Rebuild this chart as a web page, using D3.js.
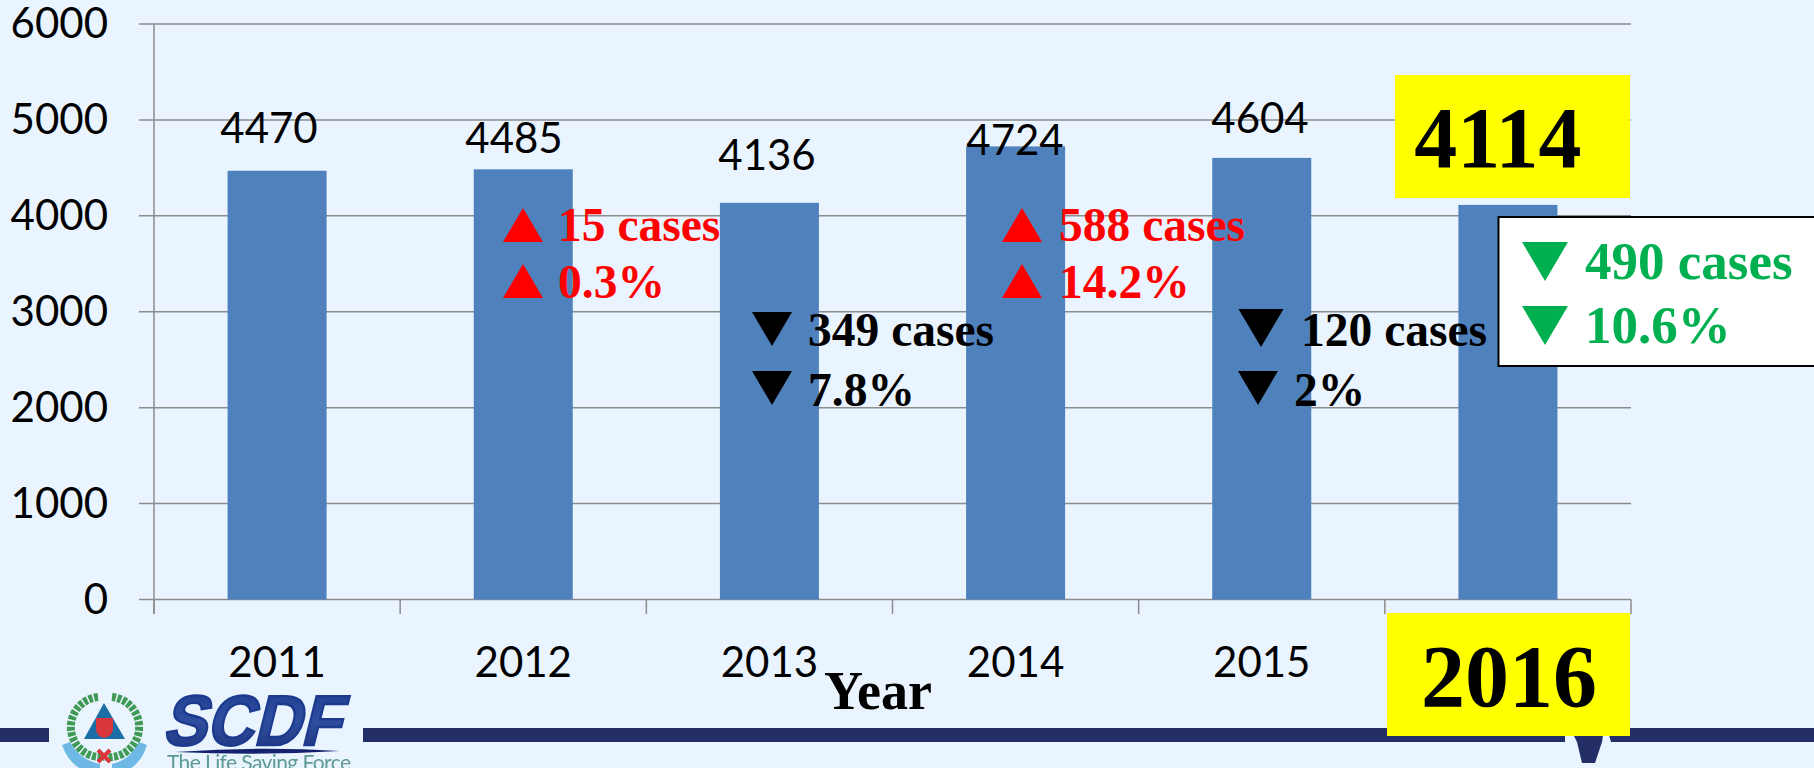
<!DOCTYPE html>
<html><head><meta charset="utf-8"><script src="https://cdn.jsdelivr.net/npm/d3@7"></script>
<style>html,body{margin:0;background:#e9f4ff;overflow:hidden}</style></head><body><svg id="c" width="1814" height="768" style="display:block"></svg>
<script>
const years=["2011","2012","2013","2014","2015","2016"];
const cases=[4470,4485,4136,4724,4604,4114];
const labelled=["4470","4485","4136","4724","4604"];
const labelX=[269,514,767,1015,1260];
const labelY=[143,153,170,155,133];
const yTicks=[0,1000,2000,3000,4000,5000,6000];
const notes=[
{x:523,y:225,w:40,h:34,tri:"up",c:"#ff0000",t:"15 cases",tx:558,by:241},
{x:523,y:281,w:40,h:34,tri:"up",c:"#ff0000",t:"0.3%",tx:558,by:298},
{x:772,y:329,w:40,h:34,tri:"down",c:"#000",t:"349 cases",tx:808,by:346},
{x:772,y:388,w:40,h:34,tri:"down",c:"#000",t:"7.8%",tx:808,by:406},
{x:1022,y:225,w:40,h:34,tri:"up",c:"#ff0000",t:"588 cases",tx:1059,by:241},
{x:1022,y:281,w:40,h:34,tri:"up",c:"#ff0000",t:"14.2%",tx:1059,by:298},
{x:1261,y:328,w:45,h:38,tri:"down",c:"#000",t:"120 cases",tx:1301,by:346},
{x:1258,y:388,w:40,h:34,tri:"down",c:"#000",t:"2%",tx:1294,by:406}];
const svg=d3.select("#c");
const sans="Lato,'Open Sans',sans-serif", serif="'Liberation Serif',serif";
const grid="#8c8c8c";
const y=d3.scaleLinear().domain([0,6000]).range([599.5,24]);
const x=d3.scaleBand().domain(years).range([154,1631]);
const defs=svg.append("defs");
defs.append("filter").attr("id","soft").append("feGaussianBlur").attr("stdDeviation",0.7);
const grad=defs.append("linearGradient").attr("id","logoBlue").attr("x1",0).attr("x2",0).attr("y1",0).attr("y2",1);
grad.append("stop").attr("offset",0).attr("stop-color","#1f3a8f");
grad.append("stop").attr("offset",0.5).attr("stop-color","#2f4f9f");
grad.append("stop").attr("offset",1).attr("stop-color","#1d2f78");
svg.append("g").selectAll("line").data(yTicks).join("line").attr("x1",139).attr("x2",1631).attr("y1",d=>y(d)).attr("y2",d=>y(d)).attr("stroke",grid).attr("stroke-width",1.5);
svg.append("line").attr("x1",154).attr("x2",154).attr("y1",24).attr("y2",614).attr("stroke",grid).attr("stroke-width",1.5);
const edges=years.map(d=>x(d)).concat([1631]);
svg.append("g").selectAll("line").data(edges).join("line").attr("x1",d=>d).attr("x2",d=>d).attr("y1",599.5).attr("y2",614).attr("stroke",grid).attr("stroke-width",1.5);
svg.append("g").selectAll("text").data(yTicks).join("text").attr("x",108).attr("y",d=>y(d)+14).attr("text-anchor","end").attr("font-family",sans).attr("font-size",42).attr("fill","#000").text(d=>d);
const bw=99;
svg.append("g").selectAll("rect").data(cases).join("rect").attr("x",(d,i)=>x(years[i])+x.bandwidth()/2-bw/2).attr("width",bw).attr("y",d=>y(d)).attr("height",d=>y(0)-y(d)).attr("fill","#4f81bd");
svg.append("g").selectAll("text").data(labelled).join("text").attr("x",(d,i)=>labelX[i]).attr("y",(d,i)=>labelY[i]).attr("text-anchor","middle").attr("font-family",sans).attr("font-size",42).attr("fill","#000").text(d=>d);
svg.append("g").selectAll("text").data(years.slice(0,5)).join("text").attr("x",d=>x(d)+x.bandwidth()/2).attr("y",677).attr("text-anchor","middle").attr("font-family",sans).attr("font-size",42).attr("fill","#000").text(d=>d);
const tri=(g,cx,cy,dir,c,w,h)=>{g.append("path").attr("d",dir=="up"?`M${cx-w/2} ${cy+h/2}L${cx+w/2} ${cy+h/2}L${cx} ${cy-h/2}Z`:`M${cx-w/2} ${cy-h/2}L${cx+w/2} ${cy-h/2}L${cx} ${cy+h/2}Z`).attr("fill",c)};
const ng=svg.append("g");
notes.forEach(n=>{tri(ng,n.x,n.y,n.tri,n.c,n.w,n.h);ng.append("text").attr("x",n.tx).attr("y",n.by).attr("font-family",serif).attr("font-weight","bold").attr("font-size",47.5).attr("fill",n.c).text(n.t)});
// footer band and logo
const navy="#232d66";
svg.append("rect").attr("x",0).attr("y",728).attr("width",49).attr("height",14).attr("fill",navy);
svg.append("rect").attr("x",363).attr("y",728).attr("width",1451).attr("height",14).attr("fill",navy);
svg.append("path").attr("d","M1577 742L1602 742L1595 763L1582 763Z").attr("fill",navy);
svg.append("path").attr("d","M1565 742L1577 742L1570 728L1565 728Z M1602 742L1611 742L1607 728L1604 728Z").attr("fill","#e9f4ff");
const logo=svg.append("g").attr("filter","url(#soft)");
logo.append("path").attr("d","M98 697A30 30 0 0 0 104 757").attr("fill","none").attr("stroke","#3f9a55").attr("stroke-width",8).attr("stroke-dasharray","4 1.5");
logo.append("path").attr("d","M112 697A30 30 0 0 1 106 757").attr("fill","none").attr("stroke","#3f9a55").attr("stroke-width",8).attr("stroke-dasharray","4 1.5");
logo.append("path").attr("d","M84 739L125 739L104 703Z").attr("fill","#1a6ea6");
logo.append("path").attr("d","M96 718L113 718L113 728Q113 736 104 738Q96 736 96 728Z").attr("fill","#d9363e");
logo.append("path").attr("d","M62 745L70 742Q80 760 100 764L100 770L82 770Q68 762 62 745Z M147 745L139 742Q130 760 112 764L112 770L128 770Q142 762 147 745Z").attr("fill","#6db8e4");
logo.append("path").attr("d","M98 750L110 762M110 750L98 762").attr("stroke","#d9363e").attr("stroke-width",4);
logo.append("text").attr("transform","translate(162,745) skewX(-14)").attr("font-family","'Liberation Sans',sans-serif").attr("font-weight","bold").attr("font-size",71).attr("fill","url(#logoBlue)").attr("stroke","#1f3a8f").attr("stroke-width",2.5).attr("textLength",178).attr("lengthAdjust","spacingAndGlyphs").text("SCDF");
logo.append("path").attr("d","M175 752Q260 746 340 751Q260 756 175 752Z").attr("fill","#16246e");
logo.append("text").attr("x",167).attr("y",770).attr("font-family",sans).attr("font-size",21).attr("fill","#5f9a94").attr("textLength",184).text("The Life Saving Force");
// callouts on top
svg.append("text").attr("x",878).attr("y",709).attr("text-anchor","middle").attr("font-family",serif).attr("font-weight","bold").attr("font-size",54).text("Year");
svg.append("rect").attr("x",1395).attr("y",75).attr("width",235).attr("height",123).attr("fill","#ffff00");
svg.append("text").attr("x",1498).attr("y",167).attr("text-anchor","middle").attr("font-family",serif).attr("font-weight","bold").attr("font-size",86).text("4114");
svg.append("rect").attr("x",1387).attr("y",613).attr("width",243).attr("height",123).attr("fill","#ffff00");
svg.append("text").attr("x",1509).attr("y",706).attr("text-anchor","middle").attr("font-family",serif).attr("font-weight","bold").attr("font-size",88).text("2016");
svg.append("rect").attr("x",1498.5).attr("y",217).attr("width",330).attr("height",149).attr("fill","#fff").attr("stroke","#000").attr("stroke-width",2);
[["490 cases",261.5,279],["10.6%",325.5,343]].forEach(([t,cy,by])=>{tri(svg,1545,cy,"down","#00b050",46,39);svg.append("text").attr("x",1585).attr("y",by).attr("font-family",serif).attr("font-weight","bold").attr("font-size",53).attr("fill","#00b050").text(t)});
</script></body></html>
